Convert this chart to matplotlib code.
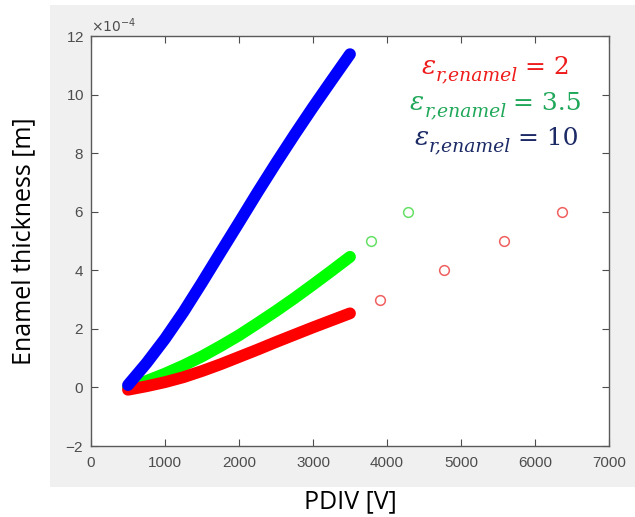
import numpy as np
import matplotlib.pyplot as plt
from matplotlib.patches import Rectangle
from matplotlib.ticker import ScalarFormatter

# curve data, thickness in units of 1e-4 m
pdiv = [500, 750, 1000, 1250, 1500, 1750, 2000, 2250, 2500, 2750, 3000, 3250, 3500]
thick_blue = [0.08, 0.83, 1.66, 2.58, 3.58, 4.61, 5.63, 6.66, 7.66, 8.63, 9.57, 10.48, 11.38]
thick_green = [0.00, 0.22, 0.47, 0.75, 1.06, 1.41, 1.78, 2.19, 2.61, 3.05, 3.51, 3.98, 4.46]
thick_red = [-0.08, 0.04, 0.18, 0.35, 0.56, 0.79, 1.04, 1.29, 1.55, 1.80, 2.05, 2.29, 2.53]

# measured points
meas_red_x = [3900, 4770, 5585, 6365]
meas_red_y = [3, 4, 5, 6]
meas_green_x = [3785, 4285]
meas_green_y = [5, 6]

eps_values = ['2', '3.5', '10']
eps_colors = ['#ee1c1c', '#20a85a', '#1c2a66']

scale = 1e-4

plt.rcParams['axes.unicode_minus'] = False

fig = plt.figure(figsize=(6.35, 5.17), dpi=100)
fig.patch.set_facecolor('white')
bg = Rectangle((50 / 635, 30 / 517), 585 / 635, 482 / 517,
               transform=fig.transFigure, facecolor='#f0f0f0',
               edgecolor='none', zorder=-1)
fig.add_artist(bg)

ax = fig.add_axes([91 / 635, 71 / 517, 518 / 635, 410 / 517])
ax.set_zorder(1)
ax.set_facecolor('white')

lw = 8.5
ax.plot(pdiv, np.array(thick_red) * scale, color='#ff0000', lw=lw,
        solid_capstyle='round', solid_joinstyle='round', zorder=3)
ax.plot(pdiv, np.array(thick_green) * scale, color='#00ff00', lw=lw,
        solid_capstyle='round', solid_joinstyle='round', zorder=2)
ax.plot(pdiv, np.array(thick_blue) * scale, color='#0000ff', lw=lw,
        solid_capstyle='round', solid_joinstyle='round', zorder=4)

ax.plot(meas_red_x, np.array(meas_red_y) * scale, 'o', mfc='none', mec='#f06060',
        ms=7, mew=1.1)
ax.plot(meas_green_x, np.array(meas_green_y) * scale, 'o', mfc='none', mec='#66e066',
        ms=7, mew=1.1)

ax.set_xlim(0, 7000)
ax.set_ylim(-2 * scale, 12 * scale)
ax.set_xticks(np.arange(0, 7001, 1000))
ax.set_yticks(np.arange(-2, 12.1, 2) * scale)

fmt = ScalarFormatter(useMathText=True)
fmt.set_powerlimits((-4, -4))
ax.yaxis.set_major_formatter(fmt)

ax.tick_params(direction='in', length=5, width=0.8, top=True, right=True,
               colors='#4d4d4d', labelsize=11, labelcolor='#4d4d4d')
ax.tick_params(axis='x', pad=7)
ax.tick_params(axis='y', pad=5)
for lab in ax.get_xticklabels() + ax.get_yticklabels():
    lab.set_family('Liberation Sans')
ax.yaxis.get_offset_text().set_color('#4d4d4d')
ax.yaxis.get_offset_text().set_fontsize(10)
for s in ax.spines.values():
    s.set_color('#5a5a5a')
    s.set_linewidth(1.0)

ax.set_xlabel('PDIV [V]', fontsize=18, family='Open Sans', color='black')
ax.set_ylabel('Enamel thickness [m]', fontsize=18, family='Open Sans', color='black')
ax.xaxis.label.set_va('center')
ax.yaxis.label.set_va('center')
ax.xaxis.set_label_coords(0.5, -0.135)
ax.yaxis.set_label_coords(-0.13, 0.5)


def eps_label(x, y, value, color):
    # epsilon, subscript and "= value" placed one after another
    kw = dict(family='DejaVu Serif', color=color, va='baseline', ha='left')
    t1 = ax.text(x, y, '\u03b5', transform=ax.transAxes, fontsize=19,
                 style='italic', **kw)
    t2 = ax.annotate('r,enamel', xy=(1, y), xycoords=(t1, ax.transAxes),
                     xytext=(0, -4.5), textcoords='offset points',
                     fontsize=13.5, style='italic', **kw)
    ax.annotate('= ' + value, xy=(1, y), xycoords=(t2, ax.transAxes),
                xytext=(5, 0), textcoords='offset points', fontsize=18, **kw)


eps_label(0.639, 0.907, eps_values[0], eps_colors[0])
eps_label(0.616, 0.820, eps_values[1], eps_colors[1])
eps_label(0.625, 0.734, eps_values[2], eps_colors[2])

fig.savefig('out.png', dpi=100)
